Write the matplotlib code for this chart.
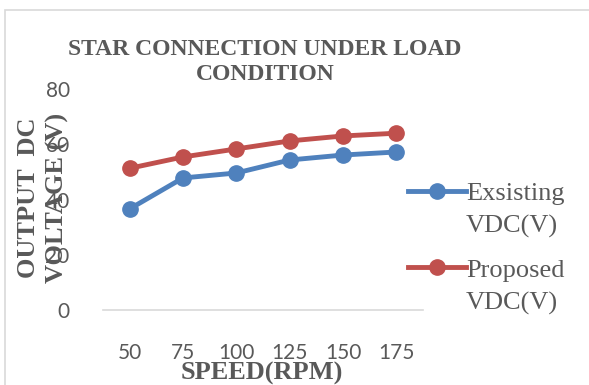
import matplotlib
matplotlib.use('Agg')
import matplotlib.pyplot as plt
from matplotlib.patches import Rectangle

# data
speed = ['50', '75', '100', '125', '150', '175']
existing_vdc = [36.6, 47.8, 49.6, 54.3, 56.1, 57.2]
proposed_vdc = [51.3, 55.4, 58.3, 61.2, 63.0, 64.0]
y_ticks = [0, 20, 40, 60, 80]

BLUE = '#4F81BD'
RED = '#C0504D'
GREY = '#595959'
SERIF = ['Liberation Serif', 'DejaVu Serif']
SANS = ['Lato', 'DejaVu Sans']

W, H = 589, 385
fig = plt.figure(figsize=(W / 100, H / 100), dpi=100, facecolor='white')

# chart border
fig.patches.append(Rectangle((5 / W, -0.1), 1.2, (H - 10) / H + 0.1,
                             transform=fig.transFigure, fill=False,
                             edgecolor='#D9D9D9', linewidth=1.2))

ax = fig.add_axes([103 / W, (H - 310) / H, 320 / W, (310 - 89) / H])

x = range(len(speed))
l1, = ax.plot(x, existing_vdc, color=BLUE, lw=3.5, marker='o', ms=11)
l2, = ax.plot(x, proposed_vdc, color=RED, lw=3.5, marker='o', ms=11)

ax.set_xlim(-0.5, len(speed) - 0.5)
ax.set_ylim(0, 80)
ax.set_xticks(list(x))
ax.set_xticklabels(speed)
ax.set_yticks(y_ticks)

for s in ['top', 'right', 'left']:
    ax.spines[s].set_visible(False)
ax.spines['bottom'].set_color('#D9D9D9')
ax.spines['bottom'].set_linewidth(1.2)
ax.tick_params(axis='both', length=0, labelcolor=GREY, labelsize=15)
ax.tick_params(axis='x', pad=24)
ax.tick_params(axis='y', pad=24)
for t in ax.get_xticklabels() + ax.get_yticklabels():
    t.set_family(SANS)

# title
fig.text(265 / W, 1 - 62 / H, 'STAR CONNECTION UNDER LOAD\nCONDITION',
         ha='center', va='center', family=SERIF, fontweight='bold',
         fontsize=17, color=GREY, linespacing=1.28)

# axis labels
fig.text(43 / W, 1 - 198 / H, 'OUTPUT  DC\nVOLTAGE (V)', rotation=90,
         ha='center', va='center', family=SERIF, fontweight='bold',
         fontsize=19, color=GREY, linespacing=1.3)
fig.text(262 / W, 1 - 380 / H, 'SPEED(RPM)', ha='center', va='baseline',
         family=SERIF, fontweight='bold', fontsize=19, color=GREY)

# legend: handle sits on the first line of each two-line label
leg = fig.legend(handles=[l1, l2], labels=['Exsisting', 'Proposed'],
                 loc='upper left', bbox_to_anchor=(408 / W, 1 - 182 / H),
                 frameon=False, prop={'family': SERIF, 'size': 19},
                 handlelength=2.2, handletextpad=0.0, labelspacing=2.0,
                 borderpad=0, borderaxespad=0)
for t in leg.get_texts():
    t.set_color(GREY)

fig.canvas.draw()
for t in leg.get_texts():
    bb = t.get_window_extent()
    fig.text(bb.x0, bb.y0 - 33, 'VDC(V)', transform=None, ha='left',
             va='bottom', family=SERIF, fontsize=19, color=GREY)

fig.savefig('out.png', dpi=100, facecolor='white')
